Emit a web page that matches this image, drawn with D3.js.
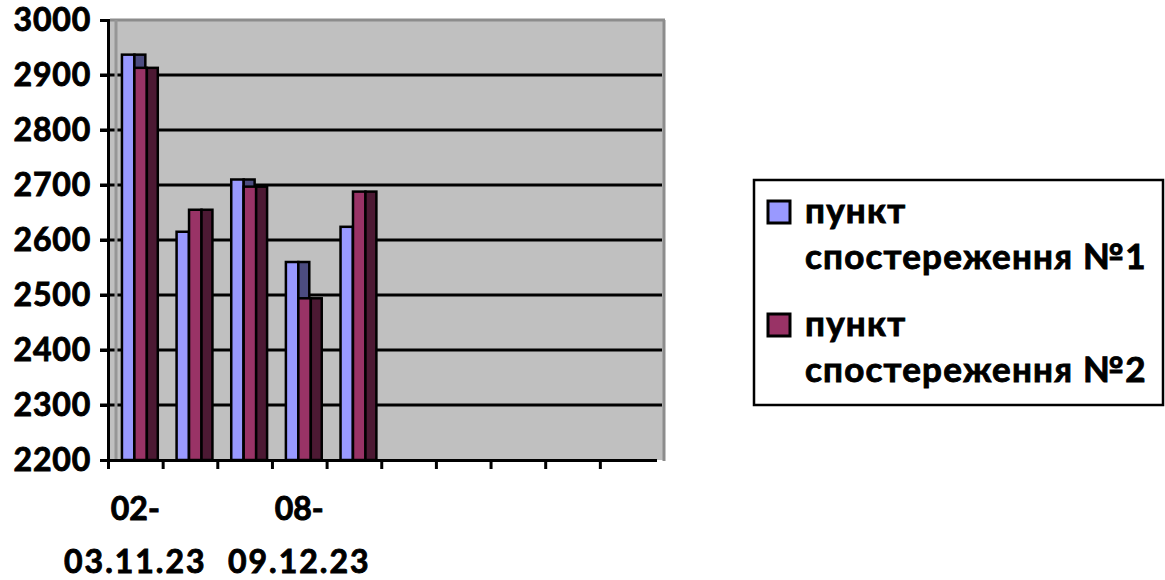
<!DOCTYPE html>
<html>
<head>
<meta charset="utf-8">
<script src="https://cdn.jsdelivr.net/npm/d3@7"></script>
<style>
  html, body { margin: 0; padding: 0; background: #ffffff; }
  svg { display: block; font-family: Lato, "Open Sans", sans-serif; font-weight: 700; }
</style>
</head>
<body>
<svg id="chart" width="1165" height="580"></svg>
<script>
// ---- data ----
const categories = ["02-03.11.23", "", "", "08-09.12.23", "", "", "", "", "", ""];
const seriesNames = ["пункт спостереження №1", "пункт спостереження №2"];
const series1 = [2937, 2615, 2710, 2560, 2624];
const series2 = [2913, 2655, 2697, 2494, 2688];
const yTicks = [2200, 2300, 2400, 2500, 2600, 2700, 2800, 2900, 3000];
const seriesColors = ["#9999FF", "#993366"];
const sideColors = ["#4C4C80", "#4C1933"];

(function () {
const svg = d3.select("#chart");

const pL = 108, pR = 654.5, pT = 20, pB = 460;
const wallRight = 664, wallLeft = 116;

const x = d3.scaleBand().domain(d3.range(categories.length)).range([pL, pR]).padding(0);
const xEdge = d3.scaleLinear().domain([0, categories.length]).range([pL, pR]);
const y = d3.scaleLinear().domain([2200, 3000]).range([pB, pT]);

const B = x.bandwidth();
const barW = 0.228 * B;
const depth = 0.2 * B;
const offset = 0.255 * B;

// background walls
svg.append("rect").attr("x", pL).attr("y", pT).attr("width", wallRight - pL).attr("height", pB - pT)
  .attr("fill", "#C0C0C0");

// gridlines
svg.append("g").selectAll("line").data(yTicks.filter(t => t > 2200 && t < 3000)).join("line")
  .attr("x1", pL - 8).attr("x2", wallRight - 2)
  .attr("y1", d => y(d)).attr("y2", d => y(d))
  .attr("stroke", "#000").attr("stroke-width", 3);

// wall edges
svg.append("line").attr("x1", pL + 2).attr("x2", wallRight + 1).attr("y1", pT).attr("y2", pT)
  .attr("stroke", "#8C8C8C").attr("stroke-width", 3);
svg.append("line").attr("x1", wallRight).attr("x2", wallRight).attr("y1", pT).attr("y2", pB + 1)
  .attr("stroke", "#8C8C8C").attr("stroke-width", 3);
svg.append("line").attr("x1", wallLeft).attr("x2", wallLeft).attr("y1", pT).attr("y2", pB)
  .attr("stroke", "#969696").attr("stroke-width", 3);

// bars
const allSeries = [series1, series2];
const gBars = svg.append("g");
series1.forEach((_, i) => {
  allSeries.forEach((vals, j) => {
    const v = vals[i];
    const x0 = x(i) + offset + j * barW;
    const yt = y(v);
    gBars.append("rect")
      .attr("x", x0).attr("y", yt).attr("width", barW).attr("height", y(2200) - yt)
      .attr("fill", seriesColors[j]).attr("stroke", "#000").attr("stroke-width", 2.5);
    gBars.append("rect")
      .attr("x", x0 + barW).attr("y", yt).attr("width", depth).attr("height", y(2200) - yt)
      .attr("fill", sideColors[j]).attr("stroke", "#000").attr("stroke-width", 2.5);
  });
});

const boldText = sel => sel.attr("font-family", "Lato").attr("font-weight", 700).attr("fill", "#000")
  .attr("stroke", "#000").attr("stroke-width", 0.9).attr("paint-order", "stroke");

// y axis
const yAxis = svg.append("g").attr("transform", `translate(${pL},0)`)
  .call(d3.axisLeft(y).tickValues(yTicks).tickSize(8).tickPadding(9).tickFormat(d3.format("d")));
yAxis.select(".domain").attr("stroke", "#000").attr("stroke-width", 3);
yAxis.selectAll(".tick line").attr("stroke", "#000").attr("stroke-width", 3);
yAxis.selectAll(".tick text").attr("font-size", 32).attr("letter-spacing", 0.8).call(boldText);

// x axis (tick marks at category boundaries)
const xAxis = svg.append("g").attr("transform", `translate(0,${pB})`)
  .call(d3.axisBottom(xEdge).tickValues(d3.range(categories.length)).tickSize(9).tickSizeOuter(0).tickFormat(""));
xAxis.select(".domain").attr("stroke", "#000").attr("stroke-width", 3).attr("d", `M${pL - 1},0.5H${pR + 2.5}`);
xAxis.selectAll(".tick line").attr("stroke", "#000").attr("stroke-width", 3);

// category labels (wrapped at the hyphen)
const labG = svg.append("g");
categories.forEach((c, i) => {
  if (!c) return;
  const parts = c.split("-");
  const t = labG.append("text").attr("text-anchor", "middle").attr("font-size", 32).call(boldText);
  t.append("tspan").attr("x", x(i) + B / 2).attr("y", 520).text(parts[0] + "-");
  t.append("tspan").attr("x", x(i) + B / 2).attr("y", 573).attr("letter-spacing", 2).text(parts[1]);
});

// legend
const lg = svg.append("g");
lg.append("rect").attr("x", 754).attr("y", 180).attr("width", 409).attr("height", 225)
  .attr("fill", "#fff").attr("stroke", "#000").attr("stroke-width", 2.5);
seriesNames.forEach((name, j) => {
  const yy = 200 + j * 113;
  lg.append("rect").attr("x", 768).attr("y", yy + 1).attr("width", 22).attr("height", 22)
    .attr("fill", seriesColors[j]).attr("stroke", "#000").attr("stroke-width", 3);
  const words = name.split(" ");
  const t = lg.append("text").attr("font-size", 35).attr("letter-spacing", 1.2).call(boldText);
  t.append("tspan").attr("x", 805).attr("y", yy + 23).text(words[0]);
  t.append("tspan").attr("x", 805).attr("y", yy + 69).text(words.slice(1).join(" "));
});
})();
</script>
</body>
</html>
